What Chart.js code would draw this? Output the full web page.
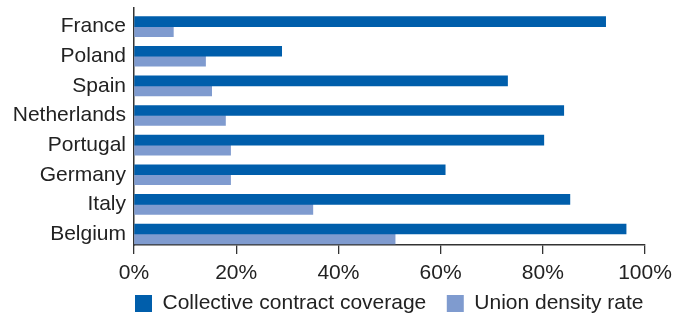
<!DOCTYPE html>
<html>
<head>
<meta charset="utf-8">
<script src="https://cdn.jsdelivr.net/npm/chart.js@4"></script>
<style>
    html, body { margin: 0; padding: 0; background: #fff; }
    #wrap { width: 680px; height: 313px; }
</style>
</head>
<body>
<div id="wrap"><canvas id="myBarChart"></canvas></div>
<script>
const countries = ['France', 'Poland', 'Spain', 'Netherlands', 'Portugal', 'Germany', 'Italy', 'Belgium'];
const coverage = [92.3, 28.9, 73.1, 84.1, 80.2, 60.9, 85.3, 96.3];
const density = [7.7, 14.0, 15.2, 17.9, 18.9, 18.9, 35.0, 51.1];
const seriesNames = ['Collective contract coverage', 'Union density rate'];
const xTicks = [0, 20, 40, 60, 80, 100];

const darkBlue = '#005eab';
const lightBlue = '#7f9bcf';
const textColor = '#222';
const axisColor = '#333';
const font = { family: 'Arial, "Liberation Sans", sans-serif', size: 21 };
const legendPad = 20.5;

// legend: small box in the layout, then moved under the plot, left edge on the y axis
const legendPlace = {
    id: 'legendPlace',
    beforeLayout(chart) {
        const legend = chart.legend;
        if (legend && !legend._fitWrapped) {
            const fit = legend.fit;
            legend.fit = function () {
                fit.call(this);
                this.height = 26;
            };
            legend._fitWrapped = true;
        }
    },
    afterLayout(chart) {
        const legend = chart.legend;
        if (!legend) return;
        legend.top = chart.height - 40.5;
        legend.bottom = chart.height;
        legend.left = chart.chartArea.left + 1 - legendPad;
        legend.right = chart.width;
        legend.width = legend.right - legend.left;
    }
};

const ctx = document.getElementById('myBarChart').getContext('2d');

new Chart(ctx, {
    type: 'bar',
    data: {
        labels: countries,
        datasets: [
            {
                label: seriesNames[0],
                data: coverage,
                backgroundColor: darkBlue,
                borderWidth: 0,
                barThickness: 10,
            },
            {
                label: seriesNames[1],
                data: density,
                backgroundColor: lightBlue,
                borderWidth: 0,
                barThickness: 10,
            },
        ],
    },
    options: {
        indexAxis: 'y',
        responsive: true,
        maintainAspectRatio: false,
        animation: false,
        layout: {
            padding: { left: 10, right: 35, top: 8, bottom: 0 }
        },
        plugins: {
            tooltip: { enabled: false },
            legend: {
                position: 'bottom',
                align: 'start',
                labels: {
                    boxWidth: 17,
                    boxHeight: 17,
                    padding: legendPad,
                    color: textColor,
                    font: font,
                },
            },
        },
        scales: {
            x: {
                min: 0,
                max: 100,
                afterBuildTicks: (scale) => {
                    scale.ticks = xTicks.map(v => ({ value: v }));
                },
                afterFit: (scale) => {
                    scale.height = 42;
                },
                grid: {
                    drawOnChartArea: false,
                    drawTicks: true,
                    tickLength: 9,
                    color: axisColor,
                    lineWidth: 1.3,
                },
                border: { display: true, color: axisColor, width: 1.5 },
                ticks: {
                    color: textColor,
                    font: font,
                    padding: 7,
                    maxRotation: 0,
                    callback: (v) => v + '%',
                },
            },
            y: {
                // pairs of bars sit a bit lower than the category centres in the original
                afterBuildTicks: (scale) => {
                    scale._startValue -= 0.13;
                },
                afterFit: (scale) => {
                    scale.width = 124;
                    scale.paddingTop = 0;
                    scale.paddingBottom = 0;
                },
                grid: { display: false, drawTicks: false },
                border: { display: true, color: axisColor, width: 1.5 },
                ticks: {
                    color: textColor,
                    font: font,
                    padding: 8,
                    autoSkip: false,
                },
            },
        },
    },
    plugins: [legendPlace],
});
</script>
</body>
</html>
